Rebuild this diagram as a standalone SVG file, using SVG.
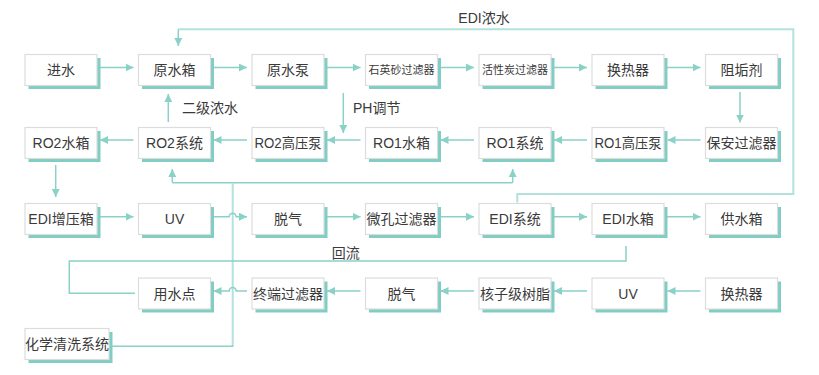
<svg xmlns="http://www.w3.org/2000/svg" width="819" height="375" viewBox="0 0 819 375">
<style>
.box rect.s{fill:#80cdc3}
.box rect.b{fill:#fff;stroke:#dcdcdc;stroke-width:1.2}
text{font-family:"Liberation Sans","Noto Sans CJK SC",sans-serif;font-size:14px;fill:#3a3a3a}
.box text{text-anchor:middle}
.sm{font-size:11px}
.ln{fill:none;stroke:#8ad1c8;stroke-width:1.5}
.lt{fill:none;stroke:#b3e1db;stroke-width:2}
</style>
<defs>
<marker id="ah" markerUnits="userSpaceOnUse" markerWidth="9" markerHeight="8" refX="8" refY="4" orient="auto">
<path d="M0,0 L8,4 L0,8 Z" fill="#8ad1c8"/>
</marker>
</defs>
<rect width="819" height="375" fill="#fff"/>

<g id="connectors">
<path class="ln" d="M100,67.5 H133.5" marker-end="url(#ah)"/>
<path class="ln" d="M213.5,67.5 H247" marker-end="url(#ah)"/>
<path class="ln" d="M327,67.5 H360.5" marker-end="url(#ah)"/>
<path class="ln" d="M440.5,67.5 H474" marker-end="url(#ah)"/>
<path class="ln" d="M554,67.5 H587" marker-end="url(#ah)"/>
<path class="ln" d="M667,67.5 H700.5" marker-end="url(#ah)"/>
<path class="ln" d="M740,92 V122.5" marker-end="url(#ah)"/>
<path class="ln" d="M700.5,140 H667.5" marker-end="url(#ah)"/>
<path class="ln" d="M587,140 H554" marker-end="url(#ah)"/>
<path class="ln" d="M474,140 H440.5" marker-end="url(#ah)"/>
<path class="ln" d="M360.5,140 H327" marker-end="url(#ah)"/>
<path class="ln" d="M247,140 H213.5" marker-end="url(#ah)"/>
<path class="ln" d="M133.5,140 H100" marker-end="url(#ah)"/>
<path class="ln" d="M168.3,122 V94" marker-end="url(#ah)"/>
<path class="ln" d="M343.3,93 V133" marker-end="url(#ah)"/>
<path class="ln" d="M55.7,165 V197" marker-end="url(#ah)"/>
<path class="ln" d="M172.3,182.7 H512.7"/>
<path class="ln" d="M172.3,182.7 V169" marker-end="url(#ah)"/>
<path class="ln" d="M512.7,182.7 V169" marker-end="url(#ah)"/>
<path class="lt" d="M232.7,182.7 V346.5"/>
<path class="ln" d="M233.5,346.3 H108.7"/>
<path class="lt" d="M517.3,202.5 V194 H793.3 V29.3 H178.3"/>
<path class="ln" d="M178.3,29.3 V46" marker-end="url(#ah)"/>
<path class="ln" d="M100,216.7 H133.5" marker-end="url(#ah)"/>
<path class="ln" d="M213.5,216.7 H229.2 A3.5,3.5 0 0 1 236.2,216.7 H247" marker-end="url(#ah)"/>
<path class="ln" d="M327,216.7 H360.5" marker-end="url(#ah)"/>
<path class="ln" d="M440.5,216.7 H474" marker-end="url(#ah)"/>
<path class="ln" d="M554,216.7 H587" marker-end="url(#ah)"/>
<path class="ln" d="M667,216.7 H700.5" marker-end="url(#ah)"/>
<path class="ln" d="M626,246 V261 H69.3 V293.3 H135"/>
<path class="ln" d="M700.5,291 H667.5" marker-end="url(#ah)"/>
<path class="ln" d="M587,291 H554" marker-end="url(#ah)"/>
<path class="ln" d="M474,291 H440.5" marker-end="url(#ah)"/>
<path class="ln" d="M360.5,291 H327" marker-end="url(#ah)"/>
<path class="ln" d="M247,291 H236.2 A3.5,3.5 0 0 0 229.2,291 H213.5" marker-end="url(#ah)"/>
</g>

<g id="labels">
<text x="458.3" y="23.3">EDI浓水</text>
<text x="182" y="113">二级浓水</text>
<text x="353" y="113">PH调节</text>
<text x="331.7" y="257.7">回流</text>
</g>

<g id="n-jinshui" class="box"><rect class="s" x="28.5" y="58" width="72" height="31"/><rect class="b" x="25" y="54.5" width="72" height="31"/><text x="61" y="75">进水</text></g>
<g id="n-yuanshuixiang" class="box"><rect class="s" x="142" y="58" width="72" height="31"/><rect class="b" x="138.5" y="54.5" width="72" height="31"/><text x="174.5" y="75">原水箱</text></g>
<g id="n-yuanshuibeng" class="box"><rect class="s" x="255.5" y="58" width="72" height="31"/><rect class="b" x="252" y="54.5" width="72" height="31"/><text x="288" y="75">原水泵</text></g>
<g id="n-shiyingsha" class="box"><rect class="s" x="369" y="58" width="72" height="31"/><rect class="b" x="365.5" y="54.5" width="72" height="31"/><text class="sm" x="401.5" y="74">石英砂过滤器</text></g>
<g id="n-huoxingtan" class="box"><rect class="s" x="482.5" y="58" width="72" height="31"/><rect class="b" x="479" y="54.5" width="72" height="31"/><text class="sm" x="515" y="74">活性炭过滤器</text></g>
<g id="n-huanreqi1" class="box"><rect class="s" x="595.5" y="58" width="72" height="31"/><rect class="b" x="592" y="54.5" width="72" height="31"/><text x="628" y="75">换热器</text></g>
<g id="n-zugouji" class="box"><rect class="s" x="709" y="58" width="72" height="31"/><rect class="b" x="705.5" y="54.5" width="72" height="31"/><text x="741.5" y="75">阻垢剂</text></g>

<g id="n-ro2shuixiang" class="box"><rect class="s" x="28.5" y="131" width="72" height="31"/><rect class="b" x="25" y="127.5" width="72" height="31"/><text x="61" y="148">RO2水箱</text></g>
<g id="n-ro2xitong" class="box"><rect class="s" x="142" y="131" width="72" height="31"/><rect class="b" x="138.5" y="127.5" width="72" height="31"/><text x="174.5" y="148">RO2系统</text></g>
<g id="n-ro2gaoyabeng" class="box"><rect class="s" x="255.5" y="131" width="72" height="31"/><rect class="b" x="252" y="127.5" width="72" height="31"/><text x="288" y="148" textLength="67" lengthAdjust="spacingAndGlyphs">RO2高压泵</text></g>
<g id="n-ro1shuixiang" class="box"><rect class="s" x="369" y="131" width="72" height="31"/><rect class="b" x="365.5" y="127.5" width="72" height="31"/><text x="401.5" y="148">RO1水箱</text></g>
<g id="n-ro1xitong" class="box"><rect class="s" x="482.5" y="131" width="72" height="31"/><rect class="b" x="479" y="127.5" width="72" height="31"/><text x="515" y="148">RO1系统</text></g>
<g id="n-ro1gaoyabeng" class="box"><rect class="s" x="595.5" y="131" width="72" height="31"/><rect class="b" x="592" y="127.5" width="72" height="31"/><text x="628" y="148" textLength="67" lengthAdjust="spacingAndGlyphs">RO1高压泵</text></g>
<g id="n-baoan" class="box"><rect class="s" x="709" y="131" width="72" height="31"/><rect class="b" x="705.5" y="127.5" width="72" height="31"/><text x="741.5" y="148">保安过滤器</text></g>

<g id="n-edizengya" class="box"><rect class="s" x="28.5" y="207" width="72" height="31"/><rect class="b" x="25" y="203.5" width="72" height="31"/><text x="61" y="224">EDI增压箱</text></g>
<g id="n-uv1" class="box"><rect class="s" x="142" y="207" width="72" height="31"/><rect class="b" x="138.5" y="203.5" width="72" height="31"/><text x="174.5" y="224">UV</text></g>
<g id="n-tuoqi1" class="box"><rect class="s" x="255.5" y="207" width="72" height="31"/><rect class="b" x="252" y="203.5" width="72" height="31"/><text x="288" y="224">脱气</text></g>
<g id="n-weikong" class="box"><rect class="s" x="369" y="207" width="72" height="31"/><rect class="b" x="365.5" y="203.5" width="72" height="31"/><text x="401.5" y="224">微孔过滤器</text></g>
<g id="n-edixitong" class="box"><rect class="s" x="482.5" y="207" width="72" height="31"/><rect class="b" x="479" y="203.5" width="72" height="31"/><text x="515" y="224">EDI系统</text></g>
<g id="n-edishuixiang" class="box"><rect class="s" x="595.5" y="207" width="72" height="31"/><rect class="b" x="592" y="203.5" width="72" height="31"/><text x="628" y="224">EDI水箱</text></g>
<g id="n-gongshuixiang" class="box"><rect class="s" x="709" y="207" width="72" height="31"/><rect class="b" x="705.5" y="203.5" width="72" height="31"/><text x="741.5" y="224">供水箱</text></g>

<g id="n-yongshuidian" class="box"><rect class="s" x="142" y="281.5" width="72" height="31"/><rect class="b" x="138.5" y="278" width="72" height="31"/><text x="174.5" y="298.5">用水点</text></g>
<g id="n-zhongduan" class="box"><rect class="s" x="255.5" y="281.5" width="72" height="31"/><rect class="b" x="252" y="278" width="72" height="31"/><text x="288" y="298.5">终端过滤器</text></g>
<g id="n-tuoqi2" class="box"><rect class="s" x="369" y="281.5" width="72" height="31"/><rect class="b" x="365.5" y="278" width="72" height="31"/><text x="401.5" y="298.5">脱气</text></g>
<g id="n-hezi" class="box"><rect class="s" x="482.5" y="281.5" width="72" height="31"/><rect class="b" x="479" y="278" width="72" height="31"/><text x="515" y="298.5">核子级树脂</text></g>
<g id="n-uv2" class="box"><rect class="s" x="595.5" y="281.5" width="72" height="31"/><rect class="b" x="592" y="278" width="72" height="31"/><text x="628" y="298.5">UV</text></g>
<g id="n-huanreqi2" class="box"><rect class="s" x="709" y="281.5" width="72" height="31"/><rect class="b" x="705.5" y="278" width="72" height="31"/><text x="741.5" y="298.5">换热器</text></g>

<g id="n-huaxue" class="box"><rect class="s" x="28.5" y="332" width="84" height="31"/><rect class="b" x="25" y="328.5" width="84" height="31"/><text x="67" y="349">化学清洗系统</text></g>
</svg>
